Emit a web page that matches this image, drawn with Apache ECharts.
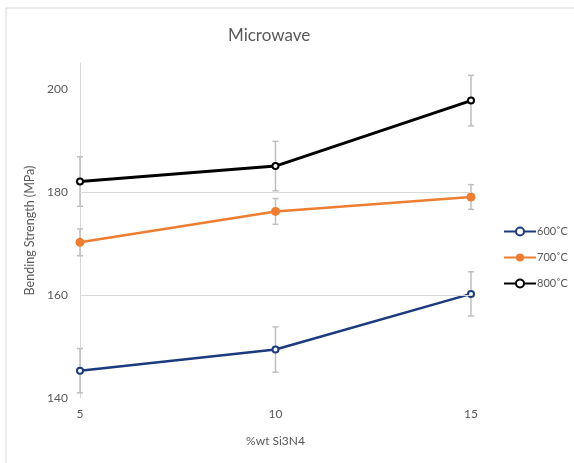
<!DOCTYPE html>
<html>
<head>
<meta charset="utf-8">
<script src="https://cdn.jsdelivr.net/npm/echarts@6/dist/echarts.min.js"></script>
<style>
  html, body { margin: 0; padding: 0; background: #fff; }
  #chart { width: 574px; height: 463px; }
</style>
</head>
<body>
<div id="chart"></div>
<script>
'use strict';

/*-----------------------------------------------
|   Data
-----------------------------------------------*/
const xValues = [5, 10, 15];
const seriesNames = ['600˚C', '700˚C', '800˚C'];
const strength600 = [145.3, 149.4, 160.2];
const strength700 = [170.2, 176.2, 179.0];
const strength800 = [182.0, 185.0, 197.7];
const error600 = [4.3, 4.4, 4.3];
const error700 = [2.6, 2.5, 2.4];
const error800 = [4.8, 4.8, 4.9];
const yTicks = [140, 160, 180, 200];
const gridValues = [160, 180];

const Colors = {
  BLUE: '#1c3a7e',
  ORANGE: '#ed7d31',
  BLACK: '#000000',
  TEXT: '#595959',
  GRID: '#d9d9d9',
  ERROR: '#bfbfbf',
};
const FONT = 'Lato, "Open Sans", sans-serif';

const chart = echarts.init(document.getElementById('chart'));

const toPoints = (values) => xValues.map((x, i) => [x, values[i]]);
const toErrors = (values, errors) =>
  xValues.map((x, i) => [x, values[i] - errors[i], values[i] + errors[i]]);

// Error bars: vertical whisker with short caps
const renderErrorBar = (params, api) => {
  const x = api.value(0);
  const low = api.coord([x, api.value(1)]);
  const high = api.coord([x, api.value(2)]);
  const cap = 3;
  const style = { stroke: Colors.ERROR, lineWidth: 1.5 };
  return {
    type: 'group',
    children: [
      { type: 'line', shape: { x1: low[0], y1: low[1], x2: high[0], y2: high[1] }, style },
      { type: 'line', shape: { x1: low[0] - cap, y1: low[1], x2: low[0] + cap, y2: low[1] }, style },
      { type: 'line', shape: { x1: high[0] - cap, y1: high[1], x2: high[0] + cap, y2: high[1] }, style },
    ],
  };
};

const errorSeries = (values, errors, withGrid) => {
  const s = {
    type: 'custom',
    silent: true,
    z: 1,
    renderItem: renderErrorBar,
    encode: { x: 0, y: [1, 2] },
    data: toErrors(values, errors),
  };
  if (withGrid) {
    // horizontal gridlines (only 160 and 180 are shown in the original)
    s.markLine = {
      silent: true,
      symbol: 'none',
      label: { show: false },
      lineStyle: { color: Colors.GRID, width: 1, type: 'solid' },
      data: gridValues.map((v) => ({ yAxis: v })),
    };
  }
  return s;
};

const lineSeries = (name, values, color, hollow, width) => ({
  name,
  type: 'line',
  z: 3,
  data: toPoints(values),
  symbol: hollow ? 'emptyCircle' : 'circle',
  symbolSize: hollow ? 6 : 9,
  showAllSymbol: true,
  lineStyle: { color, width },
  itemStyle: { color, borderColor: color, borderWidth: hollow ? 3.5 : 0 },
  emphasis: { disabled: true },
});

chart.setOption({
  animation: false,
  textStyle: { fontFamily: FONT },
  graphic: [
    {
      type: 'rect',
      silent: true,
      shape: { x: 6, y: 8, width: 600, height: 470 },
      style: { fill: 'none', stroke: Colors.GRID, lineWidth: 1 },
    },
  ],
  title: {
    text: 'Microwave',
    left: 223,
    top: 22,
    textStyle: { fontFamily: FONT, fontSize: 17, fontWeight: 'normal', color: Colors.TEXT },
  },
  legend: {
    orient: 'vertical',
    left: 498,
    top: 221,
    itemWidth: 32,
    itemHeight: 10,
    itemGap: 15,
    data: seriesNames,
    textStyle: { fontFamily: FONT, fontSize: 11, color: Colors.TEXT, padding: [0, 0, 0, -4] },
  },
  grid: { left: 80, right: 103, top: 63, bottom: 65, containLabel: false, outerBoundsMode: 'none' },
  xAxis: {
    type: 'value',
    min: xValues[0],
    max: xValues[xValues.length - 1],
    interval: 5,
    name: '%wt Si3N4',
    nameLocation: 'middle',
    nameGap: 37,
    nameTextStyle: { fontFamily: FONT, fontSize: 12, color: Colors.TEXT },
    axisLine: { show: false },
    axisTick: { show: false },
    splitLine: { show: false },
    axisLabel: { margin: 10, fontSize: 12, color: Colors.TEXT },
  },
  yAxis: {
    type: 'value',
    min: yTicks[0],
    max: 205,
    interval: 20,
    name: 'Bending Strength (MPa)',
    nameLocation: 'middle',
    nameGap: 40,
    nameTextStyle: { fontFamily: FONT, fontSize: 12.5, color: Colors.TEXT },
    axisLine: { show: true, lineStyle: { color: Colors.GRID, width: 1 } },
    axisTick: { show: false },
    splitLine: { show: false },
    axisLabel: { margin: 12, fontSize: 12, color: Colors.TEXT, showMaxLabel: false },
  },
  series: [
    errorSeries(strength600, error600, true),
    errorSeries(strength700, error700, false),
    errorSeries(strength800, error800, false),
    lineSeries(seriesNames[0], strength600, Colors.BLUE, true, 2.5),
    lineSeries(seriesNames[1], strength700, Colors.ORANGE, false, 2.5),
    lineSeries(seriesNames[2], strength800, Colors.BLACK, true, 3),
  ],
});
</script>
</body>
</html>
